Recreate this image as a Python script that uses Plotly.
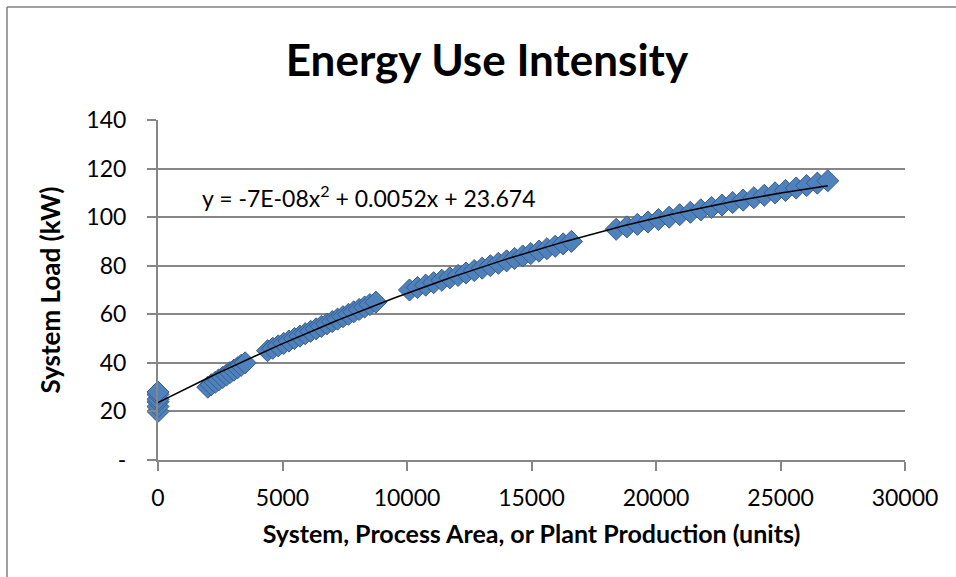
import numpy as np
import plotly.graph_objects as go

# ---- data ----
x_zero = [0, 0, 0, 0, 0, 0]
y_zero = [20, 22, 24, 25, 27, 28]

x_c2 = [2000, 2140, 2300, 2440, 2600, 2750, 2890, 3050, 3200, 3340, 3500]
y_c2 = [30, 31, 32, 33, 34, 35, 36, 37, 38, 39, 40]

x_c3 = [4400, 4610, 4830, 5050, 5260, 5480, 5700, 5910, 6130, 6350, 6560,
        6780, 7000, 7210, 7430, 7650, 7860, 8080, 8300, 8510, 8750]
y_c3 = [45, 46, 47, 48, 49, 50, 51, 52, 53, 54, 55,
        56, 57, 58, 59, 60, 61, 62, 63, 64, 65]

x_c4 = [10100, 10420, 10750, 11070, 11400, 11720, 12050, 12370, 12700, 13020, 13350,
        13670, 14000, 14320, 14650, 14970, 15300, 15620, 15950, 16270, 16600]
y_c4 = [70, 71, 72, 73, 74, 75, 76, 77, 78, 79, 80,
        81, 82, 83, 84, 85, 86, 87, 88, 89, 90]

x_c5 = [18400, 18830, 19250, 19680, 20100, 20530, 20950, 21380, 21800, 22230, 22650,
        23080, 23500, 23930, 24350, 24780, 25200, 25630, 26050, 26480, 26900]
y_c5 = [95, 96, 97, 98, 99, 100, 101, 102, 103, 104, 105,
        106, 107, 108, 109, 110, 111, 112, 113, 114, 115]

# trendline coefficients as displayed on chart (a*x^2 + b*x + c)
trend_coef = [-7e-08, 0.0052, 23.674]

y_tickvals = [0, 20, 40, 60, 80, 100, 120, 140]
y_ticktext = ["-", "20", "40", "60", "80", "100", "120", "140"]
x_tickvals = [0, 5000, 10000, 15000, 20000, 25000, 30000]
x_ticktext = ["0", "5000", "10000", "15000", "20000", "25000", "30000"]

title_text = "Energy Use Intensity"
x_title = "System, Process Area, or Plant Production (units)"
y_title = "System Load (kW)"
eq_text = "y = -7E-08x<sup>2</sup> + 0.0052x + 23.674"

# ---- build ----
xs = x_zero + x_c2 + x_c3 + x_c4 + x_c5
ys = y_zero + y_c2 + y_c3 + y_c4 + y_c5

FONT = "Lato, 'Open Sans', sans-serif"
GRID = "#868686"

fig = go.Figure()
fig.add_trace(go.Scatter(
    x=xs, y=ys, mode="markers", cliponaxis=False,
    marker=dict(symbol="diamond", size=17, color="#4F81BD",
                line=dict(color="#385D8A", width=1)),
    showlegend=False, hoverinfo="x+y"))

tx = np.linspace(min(xs), max(xs), 200)
ty = np.polyval(trend_coef, tx)
fig.add_trace(go.Scatter(x=tx, y=ty, mode="lines",
                         line=dict(color="black", width=1.5),
                         showlegend=False, hoverinfo="skip"))

L, R, T, B = 158, 905, 120, 460
W, H = 956, 577

def px_to_paper_x(px):
    return (px - L) / (R - L)

def px_to_paper_y(py):
    return (B - py) / (B - T)

fig.update_layout(
    width=W, height=H,
    margin=dict(l=L, r=W - R, t=T, b=H - B, pad=0),
    paper_bgcolor="white", plot_bgcolor="white",
    font=dict(family=FONT, size=23, color="black"),
    title=dict(text="<b>%s</b>" % title_text, xref="container", yref="container",
               x=487 / W, xanchor="center", y=1 - 61 / H, yanchor="middle",
               font=dict(family=FONT, size=44, color="black")),
    xaxis=dict(range=[0, 30000], tickvals=x_tickvals, ticktext=x_ticktext,
               showgrid=False, zeroline=False,
               showline=True, linecolor=GRID, linewidth=2,
               ticks="outside", ticklen=9, tickwidth=2, tickcolor=GRID,
               ticklabelstandoff=7,
               tickfont=dict(family=FONT, size=23),
               title=dict(text="<b>%s</b>" % x_title, standoff=16,
                          font=dict(family=FONT, size=25))),
    yaxis=dict(range=[0, 140], tickvals=y_tickvals, ticktext=y_ticktext,
               showgrid=True, gridcolor=GRID, gridwidth=2, zeroline=False,
               showline=True, linecolor=GRID, linewidth=2,
               ticks="outside", ticklen=9, tickwidth=2, tickcolor=GRID,
               ticklabelstandoff=16,
               tickfont=dict(family=FONT, size=23),
               title=dict(text="<b>%s</b>" % y_title, standoff=18,
                          font=dict(family=FONT, size=26))),
    annotations=[dict(text=eq_text, xref="x", yref="y",
                      x=(200 - L) / (R - L) * 30000, y=(B - 196) / (B - T) * 140,
                      xanchor="left", yanchor="middle", showarrow=False,
                      font=dict(family=FONT, size=23, color="black"))],
    shapes=[
        dict(type="line", xref="paper", yref="paper",
             x0=px_to_paper_x(7), x1=px_to_paper_x(7),
             y0=px_to_paper_y(7), y1=px_to_paper_y(H + 5),
             line=dict(color="#808080", width=1.5), layer="below"),
        dict(type="line", xref="paper", yref="paper",
             x0=px_to_paper_x(7), x1=px_to_paper_x(W + 5),
             y0=px_to_paper_y(7), y1=px_to_paper_y(7),
             line=dict(color="#808080", width=1.5), layer="below"),
    ],
)

fig.write_html("out.html", config={"displayModeBar": False},
               post_script="document.body.style.margin='0';document.body.style.overflow='hidden';")
